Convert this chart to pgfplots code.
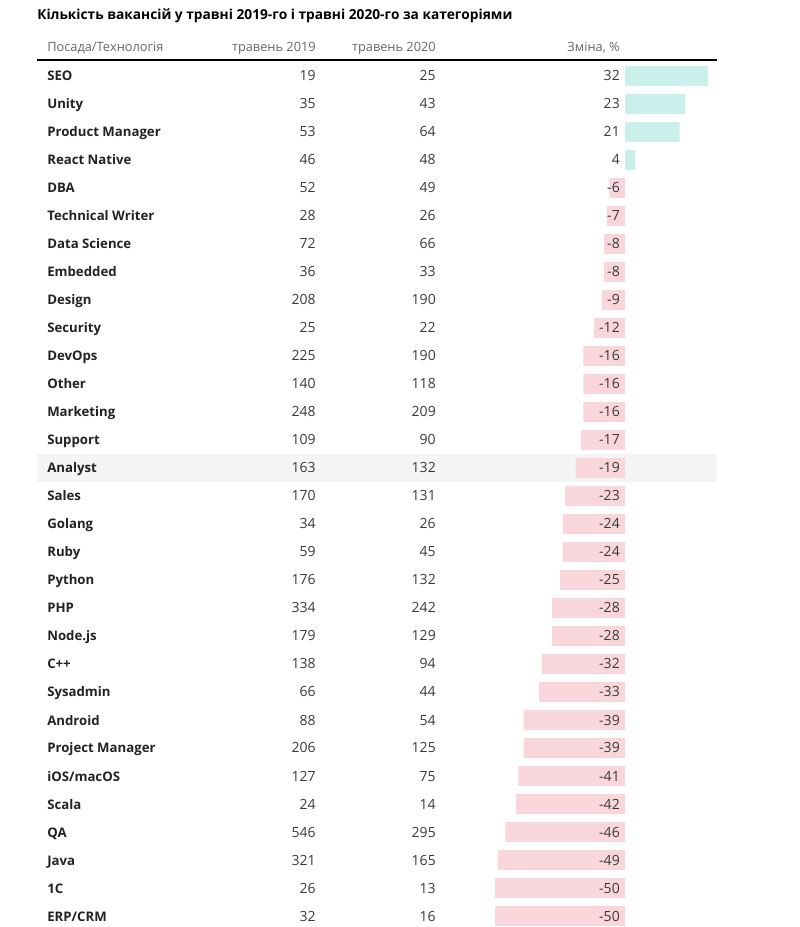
\documentclass[border=0pt]{standalone}
\usepackage{pgfplots}
\usepackage{pgfplotstable}
\pgfplotsset{compat=1.18}
\usepackage{fontspec}
\setmainfont{Open Sans}
\definecolor{posbar}{HTML}{CAF0EB}
\definecolor{negbar}{HTML}{F9D6DB}
\definecolor{rowhl}{HTML}{F5F5F5}
\definecolor{labc}{HTML}{222222}
\definecolor{numc}{HTML}{3A3A3A}
\definecolor{headc}{HTML}{666666}
\pgfplotstableread[col sep=comma]{
name,a,b,chg
SEO,19,25,32
Unity,35,43,23
Product Manager,53,64,21
React Native,46,48,4
DBA,52,49,-6
Technical Writer,28,26,-7
Data Science,72,66,-8
Embedded,36,33,-8
Design,208,190,-9
Security,25,22,-12
DevOps,225,190,-16
Other,140,118,-16
Marketing,248,209,-16
Support,109,90,-17
Analyst,163,132,-19
Sales,170,131,-23
Golang,34,26,-24
Ruby,59,45,-24
Python,176,132,-25
PHP,334,242,-28
Node.js,179,129,-28
C++,138,94,-32
Sysadmin,66,44,-33
Android,88,54,-39
Project Manager,206,125,-39
iOS/macOS,127,75,-41
Scala,24,14,-42
QA,546,295,-46
Java,321,165,-49
1C,26,13,-50
ERP/CRM,32,16,-50
}\data
\tikzset{txt/.style={inner sep=0pt, text height=1.45ex, text depth=0.05ex}}
\begin{document}
\begin{tikzpicture}
\begin{axis}[
  scale only axis, width=599.25pt, height=695.25pt,
  xmin=-240.385, xmax=66.923, ymin=-2.7143, ymax=30.393,
  y dir=reverse, hide axis, clip=false,
]
\path (rel axis cs:0,0) rectangle (rel axis cs:1,1);
% highlighted row (Analyst)
\fill[rowhl] (axis cs:-226.15,13.5) rectangle (axis cs:35.38,14.5);
% bars
\addplot[xbar, bar width=0.71, bar shift=0pt, fill=posbar, draw=none, restrict x to domain=0:100]
  table[x=chg, y expr=\coordindex]{\data};
\addplot[xbar, bar width=0.71, bar shift=0pt, fill=negbar, draw=none, restrict x to domain=-100:0]
  table[x=chg, y expr=\coordindex]{\data};
% header line
\draw[black, line width=0.9pt] (axis cs:-226.15,-0.57) -- (axis cs:35.38,-0.57);
% title and header
\node[txt, anchor=west, font=\bfseries\fontsize{10.3}{12}\selectfont, text=black] at (axis cs:-226.15,-2.18) {Кількість вакансій у травні 2019-го і травні 2020-го за категоріями};
\node[txt, anchor=west, font=\fontsize{9.6}{12}\selectfont, text=headc] at (axis cs:-222.3,-1.04) {Посада/Технологія};
\node[txt, anchor=east, font=\fontsize{9.6}{12}\selectfont, text=headc] at (axis cs:-118.85,-1.04) {травень 2019};
\node[txt, anchor=east, font=\fontsize{9.6}{12}\selectfont, text=headc] at (axis cs:-72.69,-1.04) {травень 2020};
\node[txt, anchor=east, font=\fontsize{9.6}{12}\selectfont, text=headc] at (axis cs:-1.92,-1.04) {Зміна, \%};
% row labels
\addplot[draw=none, mark=none, nodes near coords, point meta=explicit symbolic,
  nodes near coords align={anchor=west},
  every node near coord/.append style={txt, font=\bfseries\fontsize{9.9}{12}\selectfont, text=labc}]
  table[x expr=-222.3, y expr=\coordindex, meta=name]{\data};
\addplot[draw=none, mark=none, nodes near coords, point meta=explicit symbolic,
  nodes near coords align={anchor=east},
  every node near coord/.append style={txt, font=\fontsize{10.5}{12}\selectfont, text=numc}]
  table[x expr=-118.85, y expr=\coordindex, meta=a]{\data};
\addplot[draw=none, mark=none, nodes near coords, point meta=explicit symbolic,
  nodes near coords align={anchor=east},
  every node near coord/.append style={txt, font=\fontsize{10.5}{12}\selectfont, text=numc}]
  table[x expr=-72.69, y expr=\coordindex, meta=b]{\data};
\addplot[draw=none, mark=none, nodes near coords, point meta=explicit symbolic,
  nodes near coords align={anchor=east},
  every node near coord/.append style={txt, font=\fontsize{10.5}{12}\selectfont, text=numc}]
  table[x expr=-1.92, y expr=\coordindex, meta=chg]{\data};
\end{axis}
\end{tikzpicture}
\end{document}
